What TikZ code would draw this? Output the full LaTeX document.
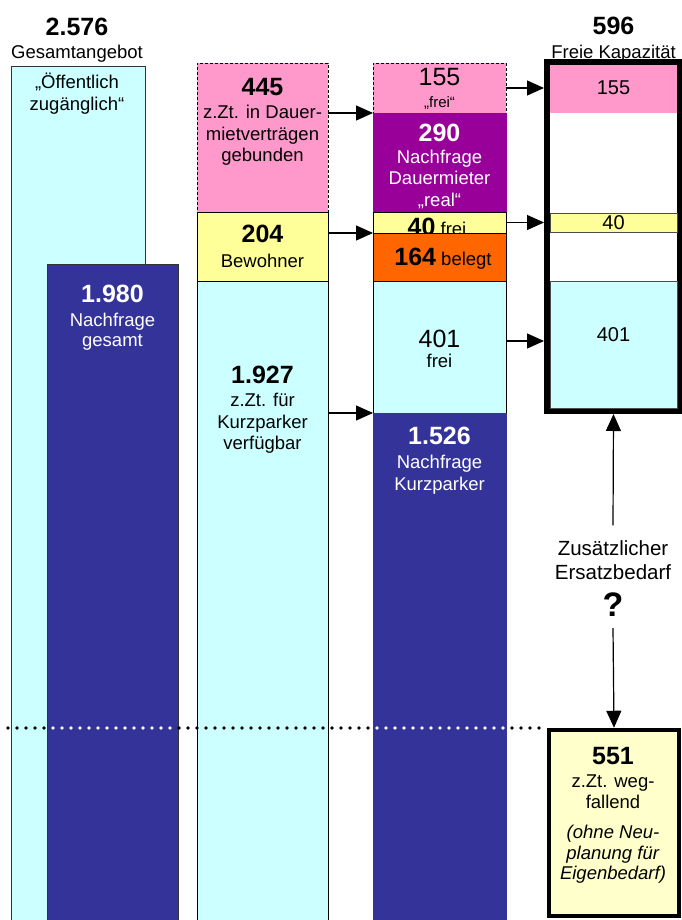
\documentclass[tikz,border=0pt]{standalone}
\usepackage{fontspec}
\setmainfont{Liberation Sans}
\usetikzlibrary{arrows.meta}

\definecolor{hellcyan}{HTML}{CCFFFF}
\definecolor{dunkelblau}{HTML}{333399}
\definecolor{rosa}{HTML}{FF99CC}
\definecolor{lila}{HTML}{990099}
\definecolor{hellgelb}{HTML}{FFFF99}
\definecolor{orangerot}{HTML}{FF6600}
\definecolor{creme}{HTML}{FFFFCC}

\newcommand{\zahl}{\fontsize{25}{28}\selectfont\bfseries}
\newcommand{\gross}{\fontsize{25}{28}\selectfont}

\tikzset{
  bar/.style={draw, rectangle, anchor=north west, inner sep=0pt, outer sep=0pt, line width=.8pt},
  lbl/.style={font=\fontsize{18.5}{21.5}\selectfont, align=center, inner sep=0pt},
  pfeil/.style={-{Triangle[length=17pt,width=15pt]}, line width=1.2pt},
  punkt/.style={inner sep=0pt, circle, minimum size=3.4pt},
}

\begin{document}
\begin{tikzpicture}[x=1pt,y=-1pt]
   \useasboundingbox (0,0) rectangle (681,920);

   % Gesamtangebot / Nachfrage gesamt
   \node[bar, fill=hellcyan, draw=black!80, minimum width=134pt, minimum height=860pt] (angebot) at (11,66) {};
   \node[bar, fill=dunkelblau, draw=black!80, minimum width=131pt, minimum height=662pt] (nfgesamt) at (47,264) {};
   \node[lbl, anchor=north, font=\zahl] (t2576) at (77,18) {2.576};
   \node[lbl, anchor=north] (tangebot) at (77,45) {Gesamtangebot};
   \node[lbl, anchor=north] (toeff) at (77,73) {„Öffentlich\\zugänglich“};
   \node[lbl, anchor=north, text=white] (t1980) at (112.5,285) {{\zahl 1.980}\\[2pt]Nachfrage\\[-1pt]gesamt};

   % Aufteilung
   \node[bar, fill=rosa, dash pattern=on 3pt off 2pt, minimum width=131pt, minimum height=149pt] (dauer) at (197,63) {};
   \node[bar, fill=hellgelb, minimum width=131pt, minimum height=69pt] (bewohner) at (197,212) {};
   \node[bar, fill=hellcyan, minimum width=131pt, minimum height=645pt] (kurz) at (197,281) {};
   \node[lbl, anchor=north] (t445) at (262.5,78) {{\zahl 445}\\[2pt]z.Zt. in Dauer-\\mietverträgen\\gebunden};
   \node[lbl, anchor=north] (t204) at (262.5,225) {{\zahl 204}\\[3pt]Bewohner};
   \node[lbl, anchor=north] (t1927) at (262.5,366) {{\zahl 1.927}\\[1.5pt]z.Zt. für\\Kurzparker\\verfügbar};

   % Belegung
   \node[bar, fill=rosa, dash pattern=on 3pt off 2pt, minimum width=133pt, minimum height=50pt] (frei155) at (373,63) {};
   \node[bar, fill=lila, draw=lila, minimum width=133pt, minimum height=99pt] (dauerreal) at (373,113) {};
   \node[bar, fill=hellgelb, minimum width=133pt, minimum height=21pt] (frei40) at (373,212) {};
   \node[lbl, anchor=base] (t40) at (437,235) {{\zahl 40} frei};
   \node[bar, fill=orangerot, minimum width=133pt, minimum height=48pt] (belegt) at (373,233) {};
   \node[bar, fill=hellcyan, minimum width=133pt, minimum height=132pt] (frei401) at (373,281) {};
   \node[bar, fill=dunkelblau, draw=dunkelblau, minimum width=133pt, minimum height=513pt] (nfkurz) at (373,413) {};
   \node[lbl, anchor=north] (t155) at (439.5,68) {{\gross 155}\\[0.5pt]{\fontsize{15}{17}\selectfont „frei“}};
   \node[lbl, anchor=north, text=white] (t290) at (439.5,124) {{\zahl 290}\\[0pt]Nachfrage\\Dauermieter\\„real“};
   \node[lbl, anchor=base] (t164) at (443,265) {{\zahl 164} belegt};
   \node[lbl, anchor=north] (t401) at (439.5,330) {{\gross 401}\\[-1.5pt]frei};
   \node[lbl, anchor=north, text=white] (t1526) at (439.5,427) {{\zahl 1.526}\\[2.5pt]Nachfrage\\Kurzparker};

   % Freie Kapazitaet
   \node[draw, line width=6pt, fill=white, minimum width=133pt, minimum height=349pt, inner sep=0pt] (kapazitaet) at (613.5,236.5) {};
   \fill[rosa] (550,65) rectangle (677,113);
   \filldraw[fill=hellgelb, draw=black!70, line width=.6pt] (550,213) rectangle (677,232);
   \filldraw[fill=hellcyan, draw=black!70, line width=.6pt] (550,281) rectangle (677,408);
   \node[lbl, anchor=north, font=\zahl] (t596) at (613.5,17) {596};
   \node[lbl, anchor=north] (tkap) at (613.5,45) {Freie Kapazität};
   \node[lbl, font=\fontsize{20}{24}\selectfont] (k155) at (613.5,88) {155};
   \node[lbl, font=\fontsize{20}{24}\selectfont] (k40) at (613.5,222.5) {40};
   \node[lbl, font=\fontsize{20}{24}\selectfont] (k401) at (613.5,335) {401};

   % wegfallend
   \node[draw, line width=4.5pt, fill=creme, minimum width=130pt, minimum height=186pt, inner sep=0pt] (weg) at (614,823) {};
   \node[lbl, anchor=north] (t551) at (613,747) {{\zahl 551}\\[2pt]z.Zt. weg-\\[-1pt]fallend\\[9pt]\textit{(ohne Neu-}\\[-1pt]\textit{planung für}\\[-1pt]\textit{Eigenbedarf)}};

   \node[lbl, font=\fontsize{20.5}{24}\selectfont] (ersatz) at (613,560) {Zusätzlicher\\Ersatzbedarf};
   \node[inner sep=0pt, font=\fontsize{34}{36}\selectfont\bfseries] (frage) at (613,605) {?};

   % Pfeile
   \draw[pfeil] (dauerreal.north west -| dauer.east) -- (dauerreal.north west);
   \draw[pfeil] (belegt.north west -| bewohner.east) -- (belegt.north west);
   \draw[pfeil] (nfkurz.north west -| kurz.east) -- (nfkurz.north west);
   \draw[pfeil] (frei155.east) -- (frei155.east -| kapazitaet.west);
   \draw[pfeil] (frei40.east) -- (frei40.east -| kapazitaet.west);
   \draw[pfeil] ([yshift=6pt]frei401.east) -- ([yshift=6pt]frei401.east -| kapazitaet.west);
   \draw[pfeil] ([yshift=15pt]ersatz.north) -- (kapazitaet.south);
   \draw[pfeil] ([yshift=-11pt]frage.south) -- (weg.north);

   % Trennlinie: schwarz, auf Blau weiss
   \foreach \x in {8,17,...,540}{
     \ifdim \x pt>45pt \ifdim \x pt<178pt \def\farbe{white}\else\def\farbe{black}\fi
     \else\def\farbe{black}\fi
     \ifdim \x pt>372pt \ifdim \x pt<506pt \def\farbe{white}\fi\fi
     \fill[\farbe] (\x,728) circle (1.8pt);
   }
\end{tikzpicture}
\end{document}
